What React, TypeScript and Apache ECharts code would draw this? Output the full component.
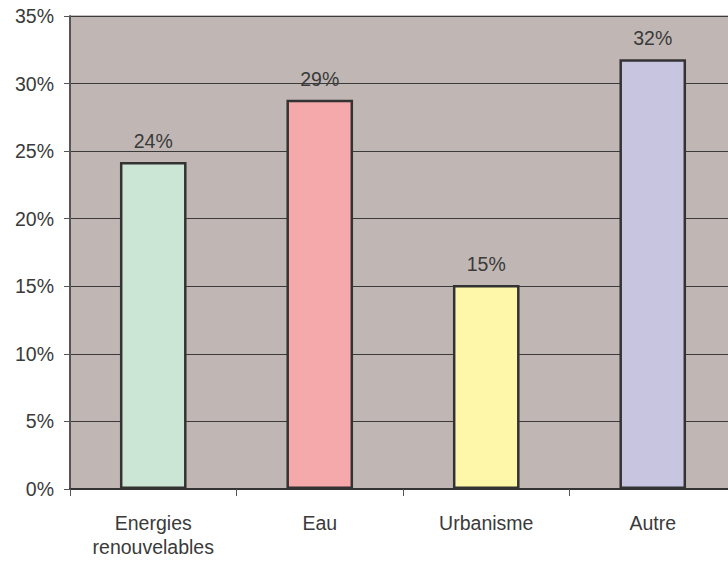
import React, { useEffect, useRef } from "react";
import * as echarts from "echarts";

const categories = ["Energies\nrenouvelables", "Eau", "Urbanisme", "Autre"];
const values = [24.2, 28.8, 15.1, 31.8];
const barColors = ["#CCE6D6", "#F5A9AA", "#FEF7AA", "#C8C5E0"];
const yTicks = { min: 0, max: 35, interval: 5 };

export default function App() {
  const ref = useRef<HTMLDivElement>(null);
  useEffect(() => {
    if (!ref.current) return;
    const chart = echarts.init(ref.current, undefined, { renderer: "svg" });
    const font = "'Liberation Sans', Arial, Helvetica, sans-serif";
    chart.setOption({
      animation: false,
      backgroundColor: "#ffffff",
      grid: { left: 70, top: 16, bottom: 72, right: 0, show: true, backgroundColor: "#C0B7B4", borderColor: "#8E8583", borderWidth: 1 },
      xAxis: {
        type: "category",
        data: categories,
        axisLine: { lineStyle: { color: "#333333", width: 2 } },
        axisTick: { show: true, alignWithLabel: false, length: 7, lineStyle: { color: "#555555" } },
        axisLabel: { color: "#3a3a3a", fontSize: 19.5, fontFamily: font, margin: 22, lineHeight: 24 },
        splitLine: { show: false },
      },
      yAxis: {
        type: "value",
        min: yTicks.min,
        max: yTicks.max,
        interval: yTicks.interval,
        axisLine: { show: true, lineStyle: { color: "#555555", width: 2 } },
        axisTick: { show: true, length: 6, lineStyle: { color: "#555555" } },
        axisLabel: { color: "#3a3a3a", fontSize: 19.5, fontFamily: font, margin: 16, formatter: (v: number) => v + "%" },
        splitLine: { show: true, lineStyle: { color: "#3a3a3a", width: 1 } },
      },
      series: [
        {
          type: "bar",
          barWidth: "40%",
          data: values.map((v, i) => ({
            value: v,
            itemStyle: { color: barColors[i], borderColor: "#333333", borderWidth: 2.5 },
          })),
          label: {
            show: true,
            position: "top",
            distance: 11,
            color: "#3a3a3a",
            fontSize: 19.5,
            fontFamily: font,
            formatter: (p: any) => Math.round(p.value) + "%",
          },
        },
      ],
    });
    return () => chart.dispose();
  }, []);
  return (
    <div style={{ position: "absolute", left: 0, top: 0, width: 728, height: 561, overflow: "hidden" }}>
      <div ref={ref} style={{ width: 736, height: 561 }} />
    </div>
  );
}
